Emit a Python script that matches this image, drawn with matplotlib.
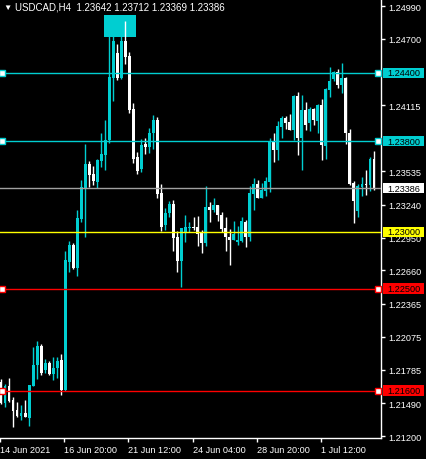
import matplotlib
matplotlib.use("Agg")
import matplotlib.pyplot as plt
import matplotlib.transforms as mtransforms
from matplotlib.patches import Rectangle
import numpy as np

# USDCAD H4 candles, oldest first
opens = [1.21676, 1.21491, 1.21641, 1.21518, 1.21429, 1.21377, 1.21403, 1.21359, 1.21641, 1.21826,
         1.21994, 1.21782, 1.21844, 1.21747, 1.21800, 1.21870, 1.21606, 1.22734, 1.22884, 1.22681,
         1.23113, 1.23386, 1.23598, 1.23510, 1.23439, 1.23624, 1.23677, 1.23809, 1.24356, 1.24576,
         1.24356, 1.24682, 1.24550, 1.24083, 1.23659, 1.23554, 1.23774, 1.23748, 1.23871, 1.23986,
         1.23342, 1.23060, 1.23166, 1.23245, 1.22954, 1.22743, 1.22998, 1.23034, 1.23042, 1.23042,
         1.22990, 1.22901, 1.23219, 1.23192, 1.23236, 1.23148, 1.23034, 1.22954, 1.22928, 1.22910,
         1.22919, 1.23087, 1.22954, 1.23333, 1.23421, 1.23298, 1.23360, 1.23439, 1.23792, 1.23721,
         1.23924, 1.24003, 1.23968, 1.23897, 1.24197, 1.23827, 1.24074, 1.23959, 1.24083, 1.23977,
         1.24118, 1.23756, 1.24250, 1.24347, 1.24409, 1.24294, 1.24356, 1.23871, 1.23430, 1.23183,
         1.23395, 1.23421, 1.23413, 1.23642]
highs = [1.21703, 1.21659, 1.21712, 1.21544, 1.21500, 1.21474, 1.21518, 1.21650, 1.21985, 1.22038,
         1.22011, 1.21879, 1.21861, 1.21897, 1.21897, 1.21923, 1.22831, 1.22919, 1.22901, 1.23192,
         1.23457, 1.23774, 1.23624, 1.23580, 1.23642, 1.23871, 1.23986, 1.24788, 1.24788, 1.24655,
         1.24770, 1.24858, 1.24585, 1.24135, 1.23704, 1.23818, 1.23827, 1.23915, 1.24030, 1.24012,
         1.23421, 1.23210, 1.23272, 1.23280, 1.23007, 1.23034, 1.23148, 1.23087, 1.23131, 1.23139,
         1.23016, 1.23404, 1.23263, 1.23298, 1.23236, 1.23175, 1.23131, 1.23025, 1.23095, 1.23051,
         1.23131, 1.23104, 1.23404, 1.23474, 1.23457, 1.23430, 1.23483, 1.23827, 1.23871, 1.23977,
         1.24021, 1.24021, 1.24038, 1.24206, 1.24232, 1.24206, 1.24144, 1.24100, 1.24091, 1.24127,
         1.24171, 1.24268, 1.24453, 1.24417, 1.24435, 1.24488, 1.24365, 1.23906, 1.23448, 1.23421,
         1.23483, 1.23545, 1.23659, 1.23712]
lows = [1.21482, 1.21456, 1.21500, 1.21280, 1.21368, 1.21341, 1.21368, 1.21288, 1.21641, 1.21703,
        1.21738, 1.21756, 1.21738, 1.21694, 1.21712, 1.21562, 1.21597, 1.22646, 1.22672, 1.22611,
        1.23087, 1.22954, 1.23395, 1.23413, 1.23386, 1.23571, 1.23545, 1.23783, 1.24153, 1.24338,
        1.24347, 1.24479, 1.24047, 1.23607, 1.23510, 1.23527, 1.23686, 1.23695, 1.23730, 1.23298,
        1.23007, 1.23016, 1.23131, 1.22831, 1.22646, 1.22514, 1.22910, 1.22998, 1.23016, 1.22875,
        1.22813, 1.22875, 1.23087, 1.23175, 1.23095, 1.22998, 1.22831, 1.22707, 1.22928, 1.22884,
        1.22910, 1.22866, 1.22919, 1.23192, 1.23298, 1.23298, 1.23316, 1.23351, 1.23615, 1.23633,
        1.23827, 1.23906, 1.23897, 1.23809, 1.23677, 1.23545, 1.23897, 1.23889, 1.23941, 1.23871,
        1.23633, 1.23642, 1.24188, 1.24329, 1.24268, 1.24224, 1.23774, 1.23413, 1.23078, 1.23131,
        1.23316, 1.23325, 1.23360, 1.23369]
closes = [1.21491, 1.21641, 1.21509, 1.21421, 1.21377, 1.21403, 1.21368, 1.21650, 1.21826, 1.21994,
          1.21756, 1.21844, 1.21747, 1.21800, 1.21861, 1.21606, 1.22752, 1.22884, 1.22681, 1.23122,
          1.23395, 1.23598, 1.23501, 1.23448, 1.23633, 1.23686, 1.23809, 1.24365, 1.24682, 1.24356,
          1.24682, 1.24541, 1.24074, 1.23642, 1.23536, 1.23765, 1.23748, 1.23871, 1.23986, 1.23333,
          1.23042, 1.23166, 1.23245, 1.22946, 1.22743, 1.23034, 1.23042, 1.23042, 1.23034, 1.22981,
          1.22901, 1.23219, 1.23192, 1.23236, 1.23148, 1.23025, 1.22954, 1.22928, 1.22981, 1.22928,
          1.23095, 1.22954, 1.23342, 1.23421, 1.23298, 1.23369, 1.23448, 1.23800, 1.23721, 1.23933,
          1.24003, 1.23959, 1.23897, 1.24197, 1.23827, 1.24074, 1.23941, 1.24083, 1.23986, 1.24118,
          1.23765, 1.24259, 1.24329, 1.24409, 1.24294, 1.24356, 1.23871, 1.23421, 1.23272, 1.23404,
          1.23421, 1.23413, 1.23642, 1.23386]

header = "USDCAD,H4  1.23642 1.23712 1.23369 1.23386"
date_ticks = [-0.25, 15.75, 31.75, 47.75, 63.75, 79.75]
date_labels = ["14 Jun 2021", "16 Jun 20:00", "21 Jun 12:00", "24 Jun 04:00", "28 Jun 20:00", "1 Jul 12:00"]
price_ticks = [1.24990, 1.24700, 1.24115, 1.23535, 1.23240, 1.22950,
               1.22660, 1.22365, 1.22075, 1.21785, 1.21490, 1.21200]

# horizontal line objects: price, colour, label background, anchors shown
levels = [1.24400, 1.23800, 1.23386, 1.23000, 1.22500, 1.21600]
level_colors = ["#00CED1", "#00CED1", "#A0A0A0", "#FFFF00", "#FF0000", "#FF0000"]
label_colors = ["#00CED1", "#00CED1", "#FFFFFF", "#FFFF00", "#FF0000", "#FF0000"]
level_anchors = [True, True, False, False, True, True]

# rectangle object (bar range, price range)
box_bars = (25.75, 33.75)
box_prices = (1.24717, 1.24911)

BULL = "#00CED1"
BEAR = "#FFFFFF"

plt.rcParams['font.family'] = ['Liberation Sans', 'DejaVu Sans']

fig = plt.figure(figsize=(4.27, 4.6), dpi=100, facecolor="black")
ax = fig.add_axes([0, 1 - 439 / 460, 381 / 427, 439 / 460])
ax.set_facecolor("black")

o = np.array(opens)
h = np.array(highs)
l = np.array(lows)
c = np.array(closes)
x = np.arange(len(o))
cols = [BULL if cc >= oo else BEAR for oo, cc in zip(o, c)]

ax.add_patch(Rectangle((box_bars[0], box_prices[0]), box_bars[1] - box_bars[0],
                       box_prices[1] - box_prices[0], color=BULL, lw=0, zorder=1))

ax.vlines(x, l, h, colors=cols, lw=1, zorder=3)
body = np.maximum(np.abs(c - o), 0.00006)
ax.bar(x, body, bottom=np.minimum(o, c), width=0.72, color=cols, lw=0, zorder=4)

blend = mtransforms.blended_transform_factory(ax.transAxes, ax.transData)
for lev, lc, bc, anc in zip(levels, level_colors, label_colors, level_anchors):
    ax.axhline(lev, color=lc, lw=1, zorder=5)
    if anc:
        for ax_x in (0.006, 0.992):
            ax.plot([ax_x], [lev], marker="s", ms=4, mfc="white", mec=lc, mew=1,
                    transform=blend, clip_on=False, zorder=6)
    ax.add_patch(Rectangle((1.005, lev - 0.00046), 0.107, 0.00092, transform=blend,
                           color=bc, lw=0, clip_on=False, zorder=6))
    ax.text(1.016, lev, f"{lev:.5f}", transform=blend, color="black", fontsize=6.6,
            va="center", ha="left", zorder=7, clip_on=False)

ax.set_xlim(-0.25, 94.75)
ax.set_ylim(1.21183, 1.25052)

ax.set_yticks(price_ticks)
ax.set_yticklabels([f"{p:.5f}" for p in price_ticks])
ax.yaxis.tick_right()
ax.set_xticks(date_ticks)
ax.set_xticklabels(date_labels, ha="left")
ax.tick_params(axis="both", colors="white", labelcolor="white", labelsize=6.6,
               length=3, width=1, direction="out")
ax.tick_params(axis="y", pad=2)
ax.tick_params(axis="x", pad=2)

for side in ("left", "top"):
    ax.spines[side].set_visible(False)
for side in ("right", "bottom"):
    ax.spines[side].set_color("white")
    ax.spines[side].set_linewidth(1)

fig.text(3 / 427, 1 - 8 / 460, "\u25BC", color="white", fontsize=6, va="center", ha="left")
fig.text(15 / 427, 1 - 8 / 460, header, color="white", fontsize=7, va="center", ha="left")

fig.savefig("out.png", dpi=100, facecolor="black")
